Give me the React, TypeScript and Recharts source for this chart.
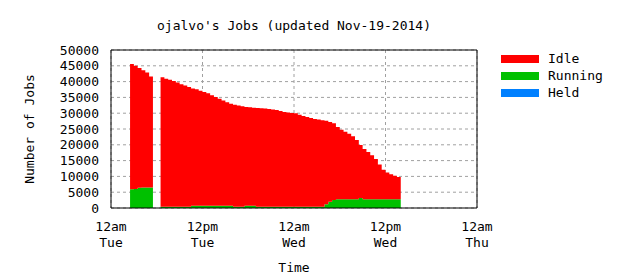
import { Area, AreaChart, CartesianGrid, Label, Legend, XAxis, YAxis } from 'recharts';

const FONT = "'DejaVu Sans Mono', monospace";

// hours since 12am Tue
const HOURS = [
  2.5, 3, 3.5, 4, 4.5, 5, 5.5,
  6.5, 7, 7.5, 8, 8.5, 9, 9.5, 10,
  10.5, 11, 11.5, 12, 12.5, 13, 13.5, 14, 14.5, 15, 15.5,
  16, 16.5, 17, 17.5, 18, 18.5,
  19, 19.5, 20, 20.5, 21, 21.5, 22, 22.5, 23, 23.5, 24, 24.5, 25, 25.5, 26, 26.5, 27, 27.5,
  28, 28.5, 29, 29.5, 30, 30.5, 31, 31.5, 32, 32.5, 33, 33.5, 34, 34.5, 35, 35.5, 36, 36.5, 37, 37.5, 38,
];

const IDLE = [
  39700, 39000, 37900, 37100, 36400, 35100, 0,
  41000, 40500, 40200, 39800, 39300, 38800, 38400, 37900,
  37050, 36850, 36350, 35950, 35550, 34950, 34350, 33850, 33250, 32750, 32250,
  32300, 32000, 31800, 31250, 31150, 31000,
  31250, 31150, 31050, 30900, 30750, 30600, 30300, 30000, 29800, 29700, 29550, 29100, 28700, 28400, 28100, 27800, 27600, 27400,
  26400, 25200, 24300, 22800, 22000, 21300, 20700, 19900, 18700, 16700, 15900, 14900, 13900, 12700, 11000, 9300, 8400, 7900, 7400, 7000, 0,
];

const RUNNING = [
  5900, 6000, 6400, 6500, 6500, 6500, 0,
  400, 400, 400, 400, 400, 400, 400, 400,
  750, 750, 750, 750, 750, 750, 750, 750, 750, 750, 750,
  400, 400, 400, 750, 750, 750,
  400, 400, 400, 400, 400, 400, 400, 400, 400, 400, 400, 400, 400, 400, 400, 400, 400, 400,
  1200, 2000, 2500, 2800, 2800, 2800, 2800, 2800, 2800, 3200, 2800, 2800, 2800, 2800, 2800, 2800, 2800, 2800, 2800, 2800, 0,
];

const HELD = [
  0, 0, 0, 0, 0, 0, 0,
  0, 0, 0, 0, 0, 0, 0, 0,
  0, 0, 0, 0, 0, 0, 0, 0, 0, 0, 0,
  0, 0, 0, 0, 0, 0,
  0, 0, 0, 0, 0, 0, 0, 0, 0, 0, 0, 0, 0, 0, 0, 0, 0, 0,
  0, 0, 0, 0, 0, 0, 0, 0, 0, 0, 0, 0, 0, 0, 0, 0, 0, 0, 0, 0, 0,
];

const X_TICKS = [0, 12, 24, 36, 48];
const X_TICK_TIME = ['12am', '12pm', '12am', '12pm', '12am'];
const X_TICK_DAY = ['Tue', 'Tue', 'Wed', 'Wed', 'Thu'];
const X_MINOR = [0, 3, 6, 9, 12, 15, 18, 21, 24, 27, 30, 33, 36, 39, 42, 45, 48];
const Y_TICKS = [0, 5000, 10000, 15000, 20000, 25000, 30000, 35000, 40000, 45000, 50000];

const SERIES = [
  { key: 'idle', name: 'Idle', color: '#ff0000' },
  { key: 'running', name: 'Running', color: '#00c000' },
  { key: 'held', name: 'Held', color: '#0080ff' },
];

function TimeTick({ x, y, payload }: any) {
  const i = X_TICKS.indexOf(payload.value);
  return (
    <text x={x} textAnchor="middle" fill="#000" fontSize={13} fontFamily={FONT}>
      <tspan x={x} y={y + 23}>{X_TICK_TIME[i]}</tspan>
      <tspan x={x} y={y + 39}>{X_TICK_DAY[i]}</tspan>
    </text>
  );
}

function YTitle({ viewBox }: any) {
  const cx = viewBox.x + 29;
  const cy = viewBox.y + viewBox.height / 2;
  return (
    <text
      x={cx}
      y={cy}
      transform={`rotate(-90 ${cx} ${cy})`}
      textAnchor="middle"
      dominantBaseline="central"
      fill="#000"
      fontSize={13}
      fontFamily={FONT}
    >
      Number of Jobs
    </text>
  );
}

function LegendBox() {
  return (
    <div style={{ fontFamily: FONT, fontSize: 13, color: '#000' }}>
      {SERIES.map((s) => (
        <div key={s.key} style={{ display: 'flex', alignItems: 'center', height: 17 }}>
          <span style={{ display: 'inline-block', width: 38, height: 8, background: s.color, marginRight: 9 }} />
          <span>{s.name}</span>
        </div>
      ))}
    </div>
  );
}

export default function App() {
  const data = HOURS.map((h, i) => ({ h, idle: IDLE[i], running: RUNNING[i], held: HELD[i] }));
  const black = { stroke: '#000' };

  return (
    <div style={{ position: 'absolute', left: 0, top: 0, width: 620, height: 280, background: '#fff' }}>
      <div
        style={{
          position: 'absolute',
          left: 0,
          top: 18,
          width: 588,
          textAlign: 'center',
          fontFamily: FONT,
          fontSize: 13,
          lineHeight: '15px',
          color: '#000',
        }}
      >
        ojalvo's Jobs (updated Nov-19-2014)
      </div>
      <AreaChart width={620} height={280} data={data} margin={{ top: 50, right: 143, bottom: 0, left: 0 }}>
        <CartesianGrid xAxisId="b" yAxisId="l" stroke="#a0a0a0" strokeDasharray="3 3" />
        <XAxis
          xAxisId="b"
          dataKey="h"
          type="number"
          domain={[0, 48]}
          ticks={X_TICKS}
          interval={0}
          height={72}
          allowDataOverflow
          tickLine={false}
          tickSize={0}
          tickMargin={0}
          axisLine={black}
          tick={(p: any) => <TimeTick {...p} />}
        >
          <Label value="Time" position="insideBottom" offset={8} fill="#000" fontSize={13} fontFamily={FONT} />
        </XAxis>
        <XAxis xAxisId="bMajor" type="number" domain={[0, 48]} ticks={X_TICKS} interval={0} mirror allowDataOverflow
          tick={false} tickSize={6} tickLine={black} axisLine={false} />
        <XAxis xAxisId="bMinor" type="number" domain={[0, 48]} ticks={X_MINOR} interval={0} mirror allowDataOverflow
          tick={false} tickSize={3} tickLine={black} axisLine={false} />
        <XAxis xAxisId="tMajor" orientation="top" type="number" domain={[0, 48]} ticks={X_TICKS} interval={0} mirror allowDataOverflow
          tick={false} tickSize={6} tickLine={black} axisLine={black} />
        <XAxis xAxisId="tMinor" orientation="top" type="number" domain={[0, 48]} ticks={X_MINOR} interval={0} mirror allowDataOverflow
          tick={false} tickSize={3} tickLine={black} axisLine={false} />
        <YAxis
          yAxisId="l"
          type="number"
          domain={[0, 50000]}
          ticks={Y_TICKS}
          interval={0}
          width={111}
          allowDataOverflow
          tickLine={false}
          tickSize={0}
          tickMargin={12}
          axisLine={black}
          tick={{ fill: '#000', fontSize: 13, fontFamily: FONT }}
        >
          <Label content={(p: any) => <YTitle {...p} />} />
        </YAxis>
        <YAxis yAxisId="lTicks" type="number" domain={[0, 50000]} ticks={Y_TICKS} interval={0} mirror allowDataOverflow
          tick={false} tickSize={6} tickLine={black} axisLine={false} />
        <YAxis yAxisId="r" orientation="right" type="number" domain={[0, 50000]} ticks={Y_TICKS} interval={0} mirror allowDataOverflow
          tick={false} tickSize={6} tickLine={black} axisLine={black} />
        <Area xAxisId="b" yAxisId="l" type="stepAfter" dataKey="held" name="Held" stackId="jobs"
          stroke="none" fill="#0080ff" fillOpacity={1} isAnimationActive={false} />
        <Area xAxisId="b" yAxisId="l" type="stepAfter" dataKey="running" name="Running" stackId="jobs"
          stroke="none" fill="#00c000" fillOpacity={1} isAnimationActive={false} />
        <Area xAxisId="b" yAxisId="l" type="stepAfter" dataKey="idle" name="Idle" stackId="jobs"
          stroke="none" fill="#ff0000" fillOpacity={1} isAnimationActive={false} />
        <Legend
          layout="vertical"
          align="center"
          verticalAlign="middle"
          wrapperStyle={{ left: 501, top: 50, width: 115 }}
          content={() => <LegendBox />}
        />
      </AreaChart>
    </div>
  );
}
